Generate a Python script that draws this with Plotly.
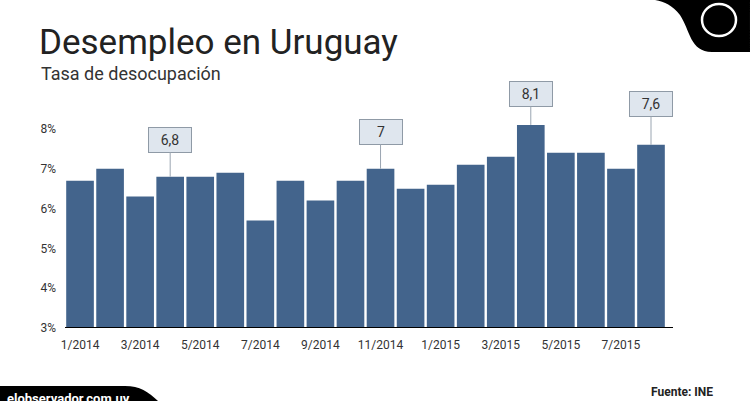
import plotly.graph_objects as go

months = ["1/2014", "2/2014", "3/2014", "4/2014", "5/2014", "6/2014", "7/2014", "8/2014",
          "9/2014", "10/2014", "11/2014", "12/2014", "1/2015", "2/2015", "3/2015", "4/2015",
          "5/2015", "6/2015", "7/2015", "8/2015"]
tasa = [6.7, 7.0, 6.3, 6.8, 6.8, 6.9, 5.7, 6.7, 6.2, 6.7, 7.0, 6.5, 6.6, 7.1, 7.3, 8.1,
        7.4, 7.4, 7.0, 7.6]
destacados = {"4/2014": ("6,8", -37), "11/2014": ("7", -37),
              "4/2015": ("8,1", -31), "8/2015": ("7,6", -41)}
tick_labels = months[::2]
y_ticks = [3, 4, 5, 6, 7, 8]

W, H = 750, 401
L, R, T, B = 65, 77, 105, 73


def px(x, y):
    # pixel -> paper
    return (x - L) / (W - L - R), (H - B - y) / (H - T - B)


def path(points):
    s = ""
    for p in points:
        coords = [px(*p[j:j + 2]) for j in range(1, len(p), 2)]
        s += p[0] + " " + " ".join(f"{a:.4f},{b:.4f}" for a, b in coords) + " "
    return s + "Z"


fig = go.Figure(go.Bar(x=months, y=tasa, marker_color="#43648c", marker_line_width=0))

for m, (txt, ay) in destacados.items():
    fig.add_annotation(x=m, y=tasa[months.index(m)], text=txt, showarrow=True, arrowhead=0,
                       arrowcolor="#9aa5b1", arrowwidth=1, ax=0, ay=ay, standoff=0,
                       bgcolor="#dfe6ee", bordercolor="#8f9aa6", borderwidth=1, borderpad=4,
                       font=dict(size=14, color="#333"), width=34)

fig.add_annotation(text="Desempleo en Uruguay", xref="paper", yref="paper",
                   x=px(37, 0)[0], y=px(0, 42)[1], xanchor="left", yanchor="middle",
                   showarrow=False, font=dict(family="Roboto", size=35, color="#222"))
fig.add_annotation(text="Tasa de desocupación", xref="paper", yref="paper",
                   x=px(39, 0)[0], y=px(0, 73)[1], xanchor="left", yanchor="middle",
                   showarrow=False, font=dict(family="Roboto", size=18, color="#333"))
fig.add_annotation(text="<b>Fuente: INE</b>", xref="paper", yref="paper",
                   x=px(715, 0)[0], y=px(0, 392)[1], xanchor="right", yanchor="middle",
                   showarrow=False, font=dict(family="Roboto", size=12, color="#222"))
fig.add_annotation(text="<b>elobservador.com.uy</b>", xref="paper", yref="paper",
                   x=px(5, 0)[0], y=px(0, 398)[1], xanchor="left", yanchor="middle",
                   showarrow=False, font=dict(family="Roboto", size=13, color="white"))

# banner inferior
fig.add_shape(type="path", xref="paper", yref="paper", fillcolor="black", line_width=0, layer="below",
              path=path([("M", 0, 401), ("L", 0, 386), ("L", 125, 386),
                         ("C", 140, 386, 148, 392, 158, 401)]))
# logo
fig.add_shape(type="path", xref="paper", yref="paper", fillcolor="black", line_width=0,
              path=path([("M", 655, 0), ("L", 750, 0), ("L", 750, 52), ("L", 712, 52),
                         ("C", 690, 52, 690, 30, 680, 15), ("C", 672, 5, 665, 2, 655, 0)]))
cx, cy = px(719, 20)
rx = 17 / (W - L - R)
ry = 16 / (H - T - B)
fig.add_shape(type="circle", xref="paper", yref="paper", x0=cx - rx, x1=cx + rx,
              y0=cy - ry, y1=cy + ry, line=dict(color="white", width=2.5))
# línea base
fig.add_shape(type="line", xref="paper", yref="y", x0=0, x1=1, y0=3, y1=3,
              line=dict(color="black", width=2))

fig.update_layout(
    width=W, height=H, margin=dict(l=L, r=R, t=T, b=B),
    plot_bgcolor="white", paper_bgcolor="white", showlegend=False, bargap=0.08,
    font=dict(family="Roboto", size=12, color="#333"),
    xaxis=dict(tickmode="array", tickvals=tick_labels, ticktext=tick_labels, showgrid=False,
               ticks="", tickfont=dict(size=12), ticklabelstandoff=8),
    yaxis=dict(range=[3, 8.6], tickvals=y_ticks, ticktext=[f"{v}%" for v in y_ticks],
               showgrid=False, zeroline=False, ticks="", tickfont=dict(size=12),
               ticklabelstandoff=8),
)

fig.write_html("out.html", config={"displayModeBar": False},
               post_script="document.body.style.margin='0';")
